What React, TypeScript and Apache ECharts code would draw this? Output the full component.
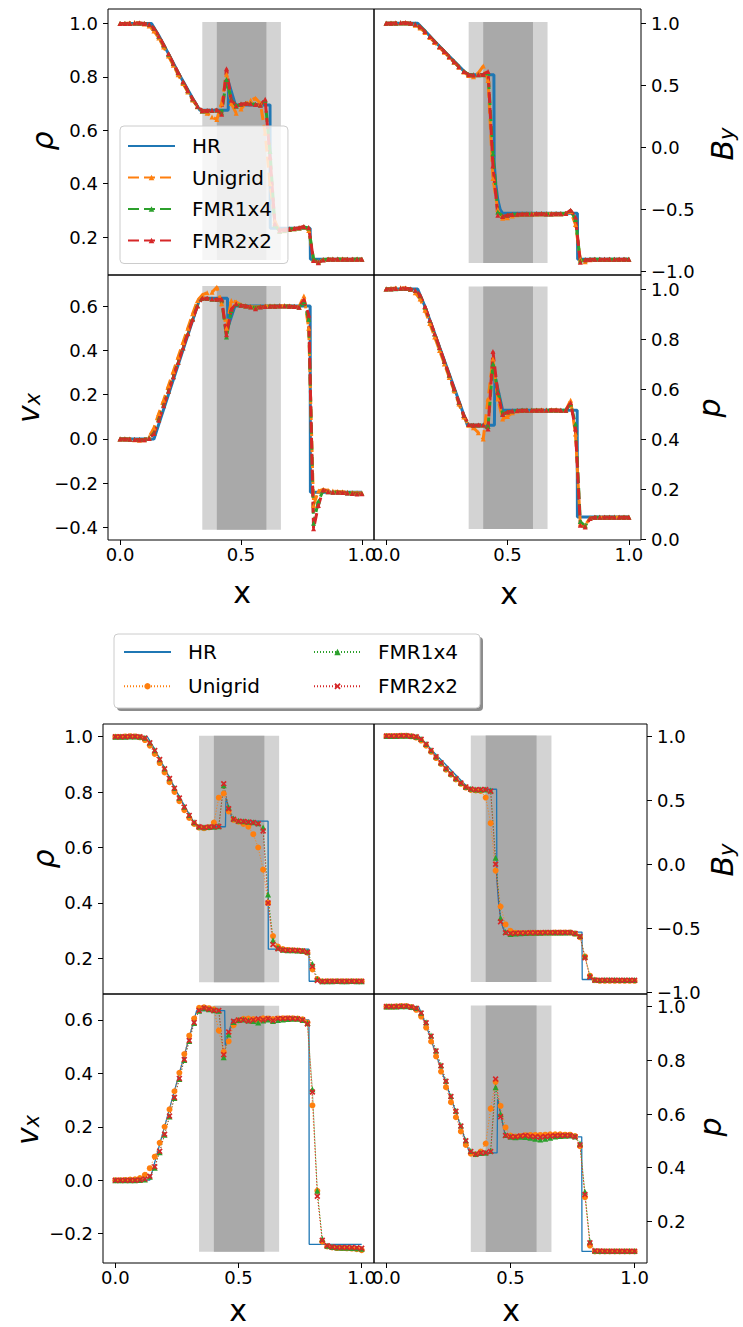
import React, { useEffect, useRef } from 'react';
import * as echarts from 'echarts';

// ---------------- data ----------------
const X = [0.00,0.02,0.04,0.06,0.08,0.10,0.12,0.14,0.16,0.18,0.20,0.22,0.24,0.26,0.28,0.30,0.32,0.34,0.36,0.38,0.40,0.42,0.44,0.46,0.48,0.50,0.52,0.54,0.56,0.58,0.60,0.62,0.64,0.66,0.68,0.70,0.72,0.74,0.76,0.78,0.80,0.82,0.84,0.86,0.88,0.90,0.92,0.94,0.96,0.98,1.00];

const X_TICKS = [0, 0.5, 1.0];
const RHO_TICKS = [0.2, 0.4, 0.6, 0.8, 1.0];
const BY_TICKS = [-1.0, -0.5, 0.0, 0.5, 1.0];
const VX_TICKS_TOP = [-0.4, -0.2, 0.0, 0.2, 0.4, 0.6];
const P_TICKS_TOP = [0.0, 0.2, 0.4, 0.6, 0.8, 1.0];
const VX_TICKS_BOT = [-0.2, 0.0, 0.2, 0.4, 0.6];
const P_TICKS_BOT = [0.2, 0.4, 0.6, 0.8, 1.0];

const SERIES_NAMES = ['HR', 'Unigrid', 'FMR1x4', 'FMR2x2'];

// refinement regions (x extents): outer buffer and inner fine region
const SHADE_OUTER = [0.34, 0.665];
const SHADE_INNER = [0.40, 0.605];

// high-resolution reference solution [x, y]
const HR_RHO = [[0,1],[0.13,1],[0.16,0.955],[0.2,0.887],[0.25,0.8],[0.3,0.72],[0.33,0.675],[0.447,0.675],[0.449,0.778],[0.475,0.700],[0.48,0.695],[0.62,0.695],[0.621,0.233],[0.786,0.233],[0.787,0.117],[1,0.117]];
const HR_BY = [[0,1],[0.13,1],[0.16,0.94],[0.2,0.855],[0.25,0.755],[0.3,0.655],[0.335,0.585],[0.444,0.585],[0.445,-0.12],[0.452,-0.3],[0.46,-0.42],[0.47,-0.5],[0.48,-0.53],[0.788,-0.53],[0.789,-0.9],[1,-0.9]];
const HR_VX = [[0,0],[0.14,0],[0.33,0.635],[0.444,0.635],[0.446,0.505],[0.475,0.6],[0.786,0.6],[0.787,-0.24],[1,-0.24]];
const HR_P = [[0,1],[0.13,1],[0.16,0.93],[0.2,0.822],[0.25,0.687],[0.3,0.552],[0.335,0.455],[0.446,0.455],[0.448,0.655],[0.48,0.515],[0.787,0.515],[0.788,0.088],[1,0.088]];

// ---- top figure ----
const TOP_RHO_UNI = [1.000,1.000,1.002,1.003,1.002,0.998,0.990,0.972,0.945,0.912,
0.878,0.843,0.808,0.775,0.743,0.713,0.688,0.672,0.664,0.650,
0.640,0.700,0.810,0.700,0.664,0.680,0.700,0.712,0.720,0.700,
0.590,0.400,0.260,0.222,0.224,0.228,0.231,0.234,0.238,0.225,
0.115,0.108,0.116,0.117,0.118,0.117,0.118,0.117,0.117,0.117,0.117];
const TOP_RHO_F14 = [1.000,1.000,1.000,1.001,1.001,1.000,0.996,0.981,0.952,0.919,
0.885,0.850,0.815,0.781,0.748,0.717,0.689,0.672,0.673,0.674,
0.675,0.665,0.790,0.715,0.690,0.697,0.700,0.700,0.697,0.695,
0.712,0.520,0.245,0.222,0.226,0.229,0.231,0.234,0.238,0.234,
0.118,0.106,0.115,0.117,0.117,0.118,0.117,0.117,0.117,0.118,0.117];
const TOP_RHO_F22 = [1.000,1.000,1.000,1.002,1.002,1.000,0.997,0.982,0.953,0.920,
0.886,0.851,0.816,0.782,0.749,0.718,0.690,0.673,0.674,0.675,
0.676,0.660,0.830,0.712,0.692,0.698,0.700,0.699,0.696,0.694,
0.716,0.500,0.250,0.226,0.228,0.230,0.232,0.235,0.240,0.236,
0.112,0.104,0.114,0.117,0.117,0.117,0.117,0.117,0.117,0.117,0.117];

const TOP_BY_UNI = [1.000,1.001,1.003,1.005,1.004,0.998,0.985,0.962,0.926,0.886,
0.846,0.806,0.766,0.726,0.686,0.646,0.608,0.580,0.570,0.600,
0.655,0.540,-0.250,-0.500,-0.570,-0.565,-0.552,-0.542,-0.538,-0.536,
-0.535,-0.535,-0.534,-0.534,-0.534,-0.533,-0.533,-0.530,-0.515,-0.620,
-0.900,-0.920,-0.905,-0.903,-0.902,-0.903,-0.902,-0.902,-0.903,-0.902,-0.902];
const TOP_BY_F14 = [1.000,1.000,1.001,1.003,1.003,1.000,0.994,0.973,0.935,0.894,
0.853,0.813,0.773,0.732,0.691,0.651,0.613,0.588,0.586,0.585,
0.586,0.600,-0.050,-0.520,-0.552,-0.546,-0.540,-0.537,-0.536,-0.535,
-0.535,-0.534,-0.534,-0.535,-0.535,-0.534,-0.533,-0.532,-0.508,-0.580,
-0.915,-0.905,-0.901,-0.900,-0.900,-0.900,-0.901,-0.900,-0.900,-0.900,-0.901];
const TOP_BY_F22 = [1.000,1.000,1.002,1.004,1.004,1.000,0.993,0.972,0.934,0.893,
0.852,0.812,0.772,0.731,0.690,0.650,0.612,0.586,0.584,0.585,
0.588,0.612,-0.150,-0.545,-0.555,-0.545,-0.540,-0.537,-0.536,-0.535,
-0.535,-0.534,-0.534,-0.535,-0.535,-0.534,-0.533,-0.532,-0.505,-0.560,
-0.925,-0.905,-0.902,-0.900,-0.900,-0.901,-0.900,-0.900,-0.901,-0.900,-0.900];

const TOP_VX_UNI = [0.000,0.000,0.000,-0.003,-0.006,-0.004,0.010,0.050,0.115,0.175,
0.240,0.305,0.370,0.435,0.500,0.565,0.625,0.650,0.660,0.662,
0.685,0.610,0.500,0.625,0.618,0.605,0.600,0.598,0.595,0.598,
0.600,0.600,0.600,0.601,0.601,0.600,0.599,0.596,0.645,0.500,
-0.300,-0.235,-0.228,-0.232,-0.235,-0.237,-0.238,-0.240,-0.242,-0.243,-0.244];
const TOP_VX_F14 = [0.000,0.000,-0.001,-0.002,-0.002,-0.002,0.003,0.027,0.088,0.152,
0.217,0.282,0.347,0.412,0.477,0.542,0.602,0.634,0.634,0.631,
0.629,0.628,0.460,0.580,0.608,0.603,0.600,0.597,0.592,0.597,
0.598,0.599,0.599,0.600,0.600,0.599,0.598,0.595,0.620,0.540,
-0.380,-0.280,-0.232,-0.238,-0.240,-0.241,-0.242,-0.244,-0.245,-0.246,-0.246];
const TOP_VX_F22 = [0.000,0.000,-0.001,-0.002,-0.003,-0.003,0.002,0.025,0.085,0.150,
0.215,0.280,0.345,0.410,0.475,0.540,0.600,0.635,0.635,0.632,
0.630,0.630,0.470,0.585,0.610,0.604,0.600,0.596,0.588,0.596,
0.598,0.599,0.599,0.600,0.600,0.599,0.598,0.594,0.628,0.560,
-0.405,-0.300,-0.230,-0.238,-0.240,-0.240,-0.242,-0.244,-0.246,-0.248,-0.247];

const TOP_P_UNI = [1.000,1.002,1.004,1.005,1.004,0.998,0.985,0.960,0.915,0.862,
0.808,0.754,0.700,0.646,0.593,0.540,0.488,0.455,0.445,0.425,
0.400,0.560,0.720,0.560,0.480,0.490,0.505,0.512,0.514,0.515,
0.515,0.515,0.516,0.516,0.516,0.516,0.515,0.514,0.555,0.420,
0.060,0.055,0.084,0.086,0.087,0.087,0.087,0.088,0.087,0.087,0.087];
const TOP_P_F14 = [1.000,1.000,1.001,1.002,1.002,1.000,0.994,0.973,0.928,0.874,
0.820,0.765,0.710,0.655,0.600,0.547,0.494,0.458,0.455,0.455,
0.456,0.450,0.700,0.590,0.500,0.508,0.512,0.514,0.515,0.515,
0.515,0.515,0.515,0.515,0.515,0.515,0.515,0.515,0.540,0.460,
0.070,0.052,0.083,0.087,0.087,0.087,0.087,0.087,0.087,0.087,0.087];
const TOP_P_F22 = [1.000,1.000,1.002,1.003,1.003,1.000,0.995,0.975,0.930,0.876,
0.821,0.766,0.711,0.656,0.601,0.548,0.495,0.458,0.455,0.456,
0.456,0.440,0.750,0.585,0.498,0.508,0.512,0.514,0.515,0.515,
0.515,0.515,0.515,0.515,0.516,0.516,0.515,0.515,0.545,0.440,
0.055,0.048,0.082,0.087,0.087,0.087,0.087,0.087,0.087,0.087,0.087];

// ---- bottom figure ----
const BOT_RHO_UNI = [1.000,1.000,1.001,1.002,1.001,0.998,0.988,0.968,0.938,0.905,
0.871,0.836,0.801,0.767,0.735,0.707,0.685,0.672,0.670,0.673,
0.690,0.780,0.795,0.730,0.700,0.693,0.685,0.675,0.648,0.600,
0.520,0.400,0.280,0.242,0.233,0.230,0.229,0.228,0.226,0.220,
0.160,0.125,0.117,0.117,0.117,0.117,0.117,0.117,0.117,0.117,0.117];
const BOT_RHO_F14 = [1.000,1.000,1.000,1.001,1.001,1.000,0.996,0.979,0.951,0.919,
0.885,0.850,0.815,0.780,0.747,0.717,0.691,0.676,0.673,0.674,
0.675,0.677,0.825,0.745,0.705,0.697,0.695,0.693,0.691,0.688,
0.672,0.430,0.265,0.238,0.231,0.229,0.229,0.228,0.227,0.224,
0.180,0.125,0.117,0.117,0.117,0.118,0.117,0.117,0.118,0.117,0.117];
const BOT_RHO_F22 = [1.000,1.000,1.000,1.001,1.001,1.000,0.995,0.978,0.950,0.918,
0.884,0.849,0.814,0.779,0.746,0.716,0.690,0.675,0.672,0.674,
0.675,0.676,0.830,0.740,0.702,0.695,0.694,0.692,0.690,0.686,
0.660,0.400,0.250,0.234,0.230,0.229,0.229,0.228,0.226,0.222,
0.170,0.120,0.116,0.117,0.117,0.117,0.117,0.117,0.117,0.117,0.117];

const BOT_BY_UNI = [1.000,1.000,1.001,1.003,1.003,0.998,0.988,0.965,0.925,0.877,
0.828,0.782,0.738,0.698,0.661,0.627,0.598,0.580,0.575,0.572,
0.520,0.320,-0.050,-0.330,-0.470,-0.520,-0.535,-0.537,-0.537,-0.536,
-0.536,-0.535,-0.535,-0.535,-0.534,-0.534,-0.533,-0.534,-0.542,-0.570,
-0.720,-0.870,-0.905,-0.910,-0.910,-0.910,-0.910,-0.910,-0.910,-0.910,-0.910];
const BOT_BY_F14 = [1.000,1.000,1.001,1.002,1.002,1.000,0.995,0.976,0.938,0.890,
0.840,0.794,0.749,0.708,0.670,0.635,0.605,0.588,0.582,0.582,
0.583,0.575,0.050,-0.420,-0.530,-0.545,-0.540,-0.538,-0.536,-0.535,
-0.535,-0.535,-0.534,-0.534,-0.534,-0.533,-0.533,-0.532,-0.538,-0.560,
-0.720,-0.870,-0.900,-0.903,-0.902,-0.902,-0.902,-0.903,-0.903,-0.903,-0.903];
const BOT_BY_F22 = [1.000,1.000,1.000,1.002,1.002,0.999,0.994,0.975,0.936,0.888,
0.838,0.792,0.747,0.706,0.668,0.633,0.603,0.586,0.581,0.582,
0.583,0.570,0.000,-0.450,-0.535,-0.540,-0.538,-0.537,-0.536,-0.535,
-0.535,-0.535,-0.534,-0.534,-0.534,-0.533,-0.533,-0.533,-0.540,-0.565,
-0.730,-0.880,-0.905,-0.905,-0.905,-0.905,-0.906,-0.906,-0.906,-0.906,-0.906];

const BOT_VX_UNI = [0.000,0.000,0.001,0.002,0.003,0.008,0.020,0.045,0.088,0.140,
0.200,0.265,0.333,0.402,0.472,0.541,0.605,0.645,0.647,0.644,
0.640,0.560,0.480,0.520,0.580,0.598,0.604,0.605,0.603,0.600,
0.606,0.605,0.603,0.605,0.606,0.606,0.606,0.605,0.602,0.590,
0.280,-0.040,-0.230,-0.248,-0.252,-0.254,-0.254,-0.255,-0.256,-0.258,-0.262];
const BOT_VX_F14 = [0.000,0.000,0.000,0.000,0.000,0.001,0.003,0.013,0.047,0.105,
0.170,0.238,0.308,0.379,0.450,0.521,0.588,0.634,0.644,0.640,
0.636,0.634,0.460,0.545,0.592,0.600,0.602,0.598,0.596,0.590,
0.598,0.602,0.596,0.600,0.602,0.603,0.604,0.604,0.600,0.588,
0.340,-0.040,-0.220,-0.245,-0.250,-0.252,-0.253,-0.253,-0.254,-0.255,-0.257];
const BOT_VX_F22 = [0.000,0.000,0.000,0.000,0.000,0.001,0.004,0.015,0.050,0.108,
0.172,0.240,0.310,0.381,0.452,0.523,0.590,0.635,0.645,0.640,
0.635,0.635,0.470,0.555,0.595,0.600,0.600,0.596,0.600,0.604,
0.600,0.605,0.598,0.605,0.605,0.606,0.605,0.604,0.600,0.585,
0.330,-0.060,-0.225,-0.245,-0.250,-0.252,-0.252,-0.252,-0.252,-0.253,-0.255];

const BOT_P_UNI = [1.000,1.000,1.001,1.002,1.002,0.998,0.988,0.963,0.922,0.870,
0.815,0.758,0.700,0.644,0.588,0.535,0.485,0.452,0.450,0.460,
0.490,0.620,0.720,0.630,0.550,0.520,0.516,0.518,0.521,0.522,
0.522,0.522,0.523,0.524,0.524,0.524,0.523,0.523,0.518,0.480,
0.290,0.110,0.088,0.088,0.088,0.088,0.088,0.088,0.088,0.088,0.088];
const BOT_P_F14 = [1.000,1.000,1.000,1.001,1.001,0.999,0.995,0.977,0.942,0.892,
0.837,0.782,0.724,0.667,0.612,0.557,0.502,0.462,0.451,0.455,
0.456,0.462,0.700,0.600,0.522,0.515,0.513,0.515,0.514,0.512,
0.508,0.505,0.508,0.512,0.516,0.518,0.519,0.520,0.516,0.490,
0.310,0.125,0.091,0.090,0.090,0.090,0.090,0.090,0.090,0.090,0.090];
const BOT_P_F22 = [1.000,1.000,1.000,1.001,1.001,0.999,0.994,0.976,0.940,0.890,
0.835,0.780,0.722,0.665,0.610,0.555,0.500,0.460,0.450,0.455,
0.456,0.460,0.730,0.590,0.520,0.515,0.515,0.518,0.520,0.517,
0.515,0.514,0.516,0.518,0.519,0.520,0.520,0.520,0.515,0.485,
0.300,0.120,0.090,0.090,0.089,0.089,0.089,0.089,0.089,0.089,0.089];

// ---------------- layout / style ----------------
const FONT = 'DejaVu Sans';
const C_BLUE = '#1f77b4';
const C_ORANGE = '#ff7f0e';
const C_GREEN = '#2ca02c';
const C_RED = '#d62728';
const X_SYMBOL = 'path://M2,0L5,3L8,0L10,2L7,5L10,8L8,10L5,7L2,10L0,8L3,5L0,2Z';

type Panel = {
  grid: { left: number; top: number; width: number; height: number };
  y: number[]; ticks: number[]; side: 'left' | 'right'; showX: boolean;
  hr: number[][]; uni: number[]; f14: number[]; f22: number[]; shade: number[]; fig: 'top' | 'bot';
};

const PANELS: Panel[] = [
  { grid: { left: 108, top: 9, width: 266, height: 266 }, y: [0.058, 1.054], ticks: RHO_TICKS, side: 'left', showX: false, hr: HR_RHO, uni: TOP_RHO_UNI, f14: TOP_RHO_F14, f22: TOP_RHO_F22, shade: [0.114, 1.005], fig: 'top' },
  { grid: { left: 374, top: 9, width: 267, height: 266 }, y: [-1.027, 1.115], ticks: BY_TICKS, side: 'right', showX: false, hr: HR_BY, uni: TOP_BY_UNI, f14: TOP_BY_F14, f22: TOP_BY_F22, shade: [-0.93, 1.01], fig: 'top' },
  { grid: { left: 108, top: 275, width: 266, height: 265 }, y: [-0.456, 0.74], ticks: VX_TICKS_TOP, side: 'left', showX: true, hr: HR_VX, uni: TOP_VX_UNI, f14: TOP_VX_F14, f22: TOP_VX_F22, shade: [-0.41, 0.69], fig: 'top' },
  { grid: { left: 374, top: 275, width: 267, height: 265 }, y: [-0.004, 1.056], ticks: P_TICKS_TOP, side: 'right', showX: true, hr: HR_P, uni: TOP_P_UNI, f14: TOP_P_F14, f22: TOP_P_F22, shade: [0.04, 1.01], fig: 'top' },
  { grid: { left: 103, top: 724, width: 271, height: 270 }, y: [0.071, 1.046], ticks: RHO_TICKS, side: 'left', showX: false, hr: HR_RHO, uni: BOT_RHO_UNI, f14: BOT_RHO_F14, f22: BOT_RHO_F22, shade: [0.113, 1.004], fig: 'bot' },
  { grid: { left: 374, top: 724, width: 273, height: 270 }, y: [-1.013, 1.094], ticks: BY_TICKS, side: 'right', showX: false, hr: HR_BY, uni: BOT_BY_UNI, f14: BOT_BY_F14, f22: BOT_BY_F22, shade: [-0.92, 1.005], fig: 'bot' },
  { grid: { left: 103, top: 994, width: 271, height: 269 }, y: [-0.31, 0.697], ticks: VX_TICKS_BOT, side: 'left', showX: true, hr: HR_VX, uni: BOT_VX_UNI, f14: BOT_VX_F14, f22: BOT_VX_F22, shade: [-0.268, 0.653], fig: 'bot' },
  { grid: { left: 374, top: 994, width: 273, height: 269 }, y: [0.045, 1.047], ticks: P_TICKS_BOT, side: 'right', showX: true, hr: HR_P, uni: BOT_P_UNI, f14: BOT_P_F14, f22: BOT_P_F22, shade: [0.086, 1.004], fig: 'bot' },
];

function fmt(v: number) {
  const s = (Math.abs(v) < 1e-9 ? 0 : v).toFixed(1);
  return s.replace('-', '\u2212');
}

function pairs(arr: number[]) {
  return X.map((x, i) => [x, arr[i]]);
}

function buildOption() {
  const grids: any[] = [];
  const xAxes: any[] = [];
  const yAxes: any[] = [];
  const series: any[] = [];

  PANELS.forEach((p, i) => {
    grids.push({ ...p.grid, show: true, borderColor: '#000', borderWidth: 1, backgroundColor: 'transparent' });
    xAxes.push({
      type: 'value', gridIndex: i, min: -0.05, max: 1.05,
      axisLine: { show: false, onZero: false },
      splitLine: { show: false },
      axisTick: { show: p.showX, customValues: X_TICKS, length: 5, lineStyle: { color: '#000', width: 1 } },
      axisLabel: { show: p.showX, customValues: X_TICKS, formatter: fmt, margin: 5, fontSize: 18, color: '#000', fontFamily: FONT },
    });
    yAxes.push({
      type: 'value', gridIndex: i, position: p.side, min: p.y[0], max: p.y[1],
      axisLine: { show: false, onZero: false },
      splitLine: { show: false },
      axisTick: { show: true, customValues: p.ticks, length: 5, lineStyle: { color: '#000', width: 1 } },
      axisLabel: { customValues: p.ticks, formatter: fmt, margin: 10, fontSize: 18, color: '#000', fontFamily: FONT },
    });

    // shaded refinement regions
    series.push({
      type: 'line', xAxisIndex: i, yAxisIndex: i, data: [], silent: true, z: 1,
      markArea: {
        silent: true, label: { show: false },
        data: [
          [{ xAxis: SHADE_OUTER[0], yAxis: p.shade[0], itemStyle: { color: '#d3d3d3', opacity: 1 } }, { xAxis: SHADE_OUTER[1], yAxis: p.shade[1] }],
          [{ xAxis: SHADE_INNER[0], yAxis: p.shade[0], itemStyle: { color: '#a9a9a9', opacity: 1 } }, { xAxis: SHADE_INNER[1], yAxis: p.shade[1] }],
        ],
      },
    });

    const top = p.fig === 'top';
    const suf = top ? '' : ' ';
    const common = { type: 'line', xAxisIndex: i, yAxisIndex: i, z: 3, silent: true, showSymbol: true, animation: false };
    series.push({ ...common, name: SERIES_NAMES[0] + suf, data: p.hr, symbol: 'none',
      lineStyle: { color: C_BLUE, width: top ? 3 : 1.3 }, itemStyle: { color: C_BLUE } });
    if (top) {
      const dash = [11, 5];
      series.push({ ...common, name: SERIES_NAMES[1], data: pairs(p.uni), symbol: 'triangle', symbolSize: 5,
        lineStyle: { color: C_ORANGE, width: 3, type: dash }, itemStyle: { color: C_ORANGE } });
      series.push({ ...common, name: SERIES_NAMES[2], data: pairs(p.f14), symbol: 'triangle', symbolSize: 5,
        lineStyle: { color: C_GREEN, width: 3, type: dash }, itemStyle: { color: C_GREEN } });
      series.push({ ...common, name: SERIES_NAMES[3], data: pairs(p.f22), symbol: 'triangle', symbolSize: 5,
        lineStyle: { color: C_RED, width: 3, type: dash }, itemStyle: { color: C_RED } });
    } else {
      const dot = [1, 2];
      series.push({ ...common, name: SERIES_NAMES[1] + suf, data: pairs(p.uni), symbol: 'circle', symbolSize: 6,
        lineStyle: { color: C_ORANGE, width: 1, type: dot }, itemStyle: { color: C_ORANGE } });
      series.push({ ...common, name: SERIES_NAMES[2] + suf, data: pairs(p.f14), symbol: 'triangle', symbolSize: 6,
        lineStyle: { color: C_GREEN, width: 1, type: dot }, itemStyle: { color: C_GREEN } });
      series.push({ ...common, name: SERIES_NAMES[3] + suf, data: pairs(p.f22), symbol: X_SYMBOL, symbolSize: 6,
        lineStyle: { color: C_RED, width: 1, type: dot }, itemStyle: { color: C_RED } });
    }
  });

  const legendText = { fontSize: 20, color: '#000', fontFamily: FONT, lineHeight: 22, padding: [0, 0, 0, 12] };
  const hideSym = { opacity: 0 };
  const legends = [
    {
      data: [{ name: SERIES_NAMES[0], itemStyle: hideSym }, SERIES_NAMES[1], SERIES_NAMES[2], SERIES_NAMES[3]],
      orient: 'vertical', left: 120, top: 126, padding: [9, 16, 12, 7],
      itemWidth: 47, itemHeight: 7, itemGap: 9.5, selectedMode: false, z: 10,
      backgroundColor: 'rgba(255,255,255,0.8)', borderColor: '#cccccc', borderWidth: 1, borderRadius: 4,
      textStyle: legendText,
    },
    {
      data: [{ name: SERIES_NAMES[0] + ' ', itemStyle: hideSym }, SERIES_NAMES[1] + ' '], orient: 'vertical', left: 116, top: 634, padding: [7, 7, 7, 7],
      itemWidth: 47, itemHeight: 8, itemGap: 12.3, selectedMode: false, z: 10,
      formatter: (n: string) => n.trim(), textStyle: legendText,
    },
    {
      data: [SERIES_NAMES[2] + ' ', SERIES_NAMES[3] + ' '], orient: 'vertical', left: 306, top: 634, padding: [7, 7, 7, 7],
      itemWidth: 47, itemHeight: 8, itemGap: 12.3, selectedMode: false, z: 10,
      formatter: (n: string) => n.trim(), textStyle: legendText,
    },
  ];

  const lab = (x: number, y: number, text: string, rich: any, rotate: boolean) => ({
    type: 'text', x, y, rotation: rotate ? Math.PI / 2 : 0, z: 20,
    style: { text, rich, fill: '#000', align: 'center', verticalAlign: 'middle', textAlign: 'center', textVerticalAlign: 'middle' },
  });
  const mainIt = { fontSize: 30, fontStyle: 'italic', fontFamily: FONT, lineHeight: 30, verticalAlign: 'middle' };
  const subIt = { fontSize: 21, fontStyle: 'italic', fontFamily: FONT, lineHeight: 12, verticalAlign: 'bottom' };
  const up = { fontSize: 30, fontFamily: FONT, lineHeight: 28 };
  const rich = { m: mainIt, s: subIt, u: up };

  const graphic = [
    { type: 'rect', z: 5, shape: { x: 117, y: 637, width: 366, height: 74, r: 4 }, style: { fill: 'rgba(0,0,0,0.45)' } },
    { type: 'rect', z: 6, shape: { x: 114, y: 634, width: 366, height: 74, r: 4 }, style: { fill: '#ffffff', stroke: '#cccccc', lineWidth: 1 } },
    lab(42, 141, '{m|ρ}', rich, true),
    lab(722, 144, '{m|B}{s|y}', rich, true),
    lab(28, 408, '{m|v}{s|x}', rich, true),
    lab(709, 408, '{m|p}', rich, true),
    lab(242, 592, '{u|x}', rich, false),
    lab(509, 593, '{u|x}', rich, false),
    lab(43, 859, '{m|ρ}', rich, true),
    lab(722, 860, '{m|B}{s|y}', rich, true),
    lab(27, 1130, '{m|v}{s|x}', rich, true),
    lab(710, 1127, '{m|p}', rich, true),
    lab(238, 1310, '{u|x}', rich, false),
    lab(511, 1310, '{u|x}', rich, false),
  ];

  return {
    animation: false,
    backgroundColor: '#ffffff',
    textStyle: { fontFamily: FONT },
    grid: grids, xAxis: xAxes, yAxis: yAxes, series, legend: legends, graphic,
  };
}

export default function App() {
  const ref = useRef<HTMLDivElement>(null);
  useEffect(() => {
    const chart = echarts.init(ref.current!, null, { renderer: 'svg' });
    chart.setOption(buildOption() as any);
    return () => chart.dispose();
  }, []);
  return <div ref={ref} style={{ position: 'fixed', left: 0, top: 0, width: 743, height: 1327, background: '#fff' }} />;
}
